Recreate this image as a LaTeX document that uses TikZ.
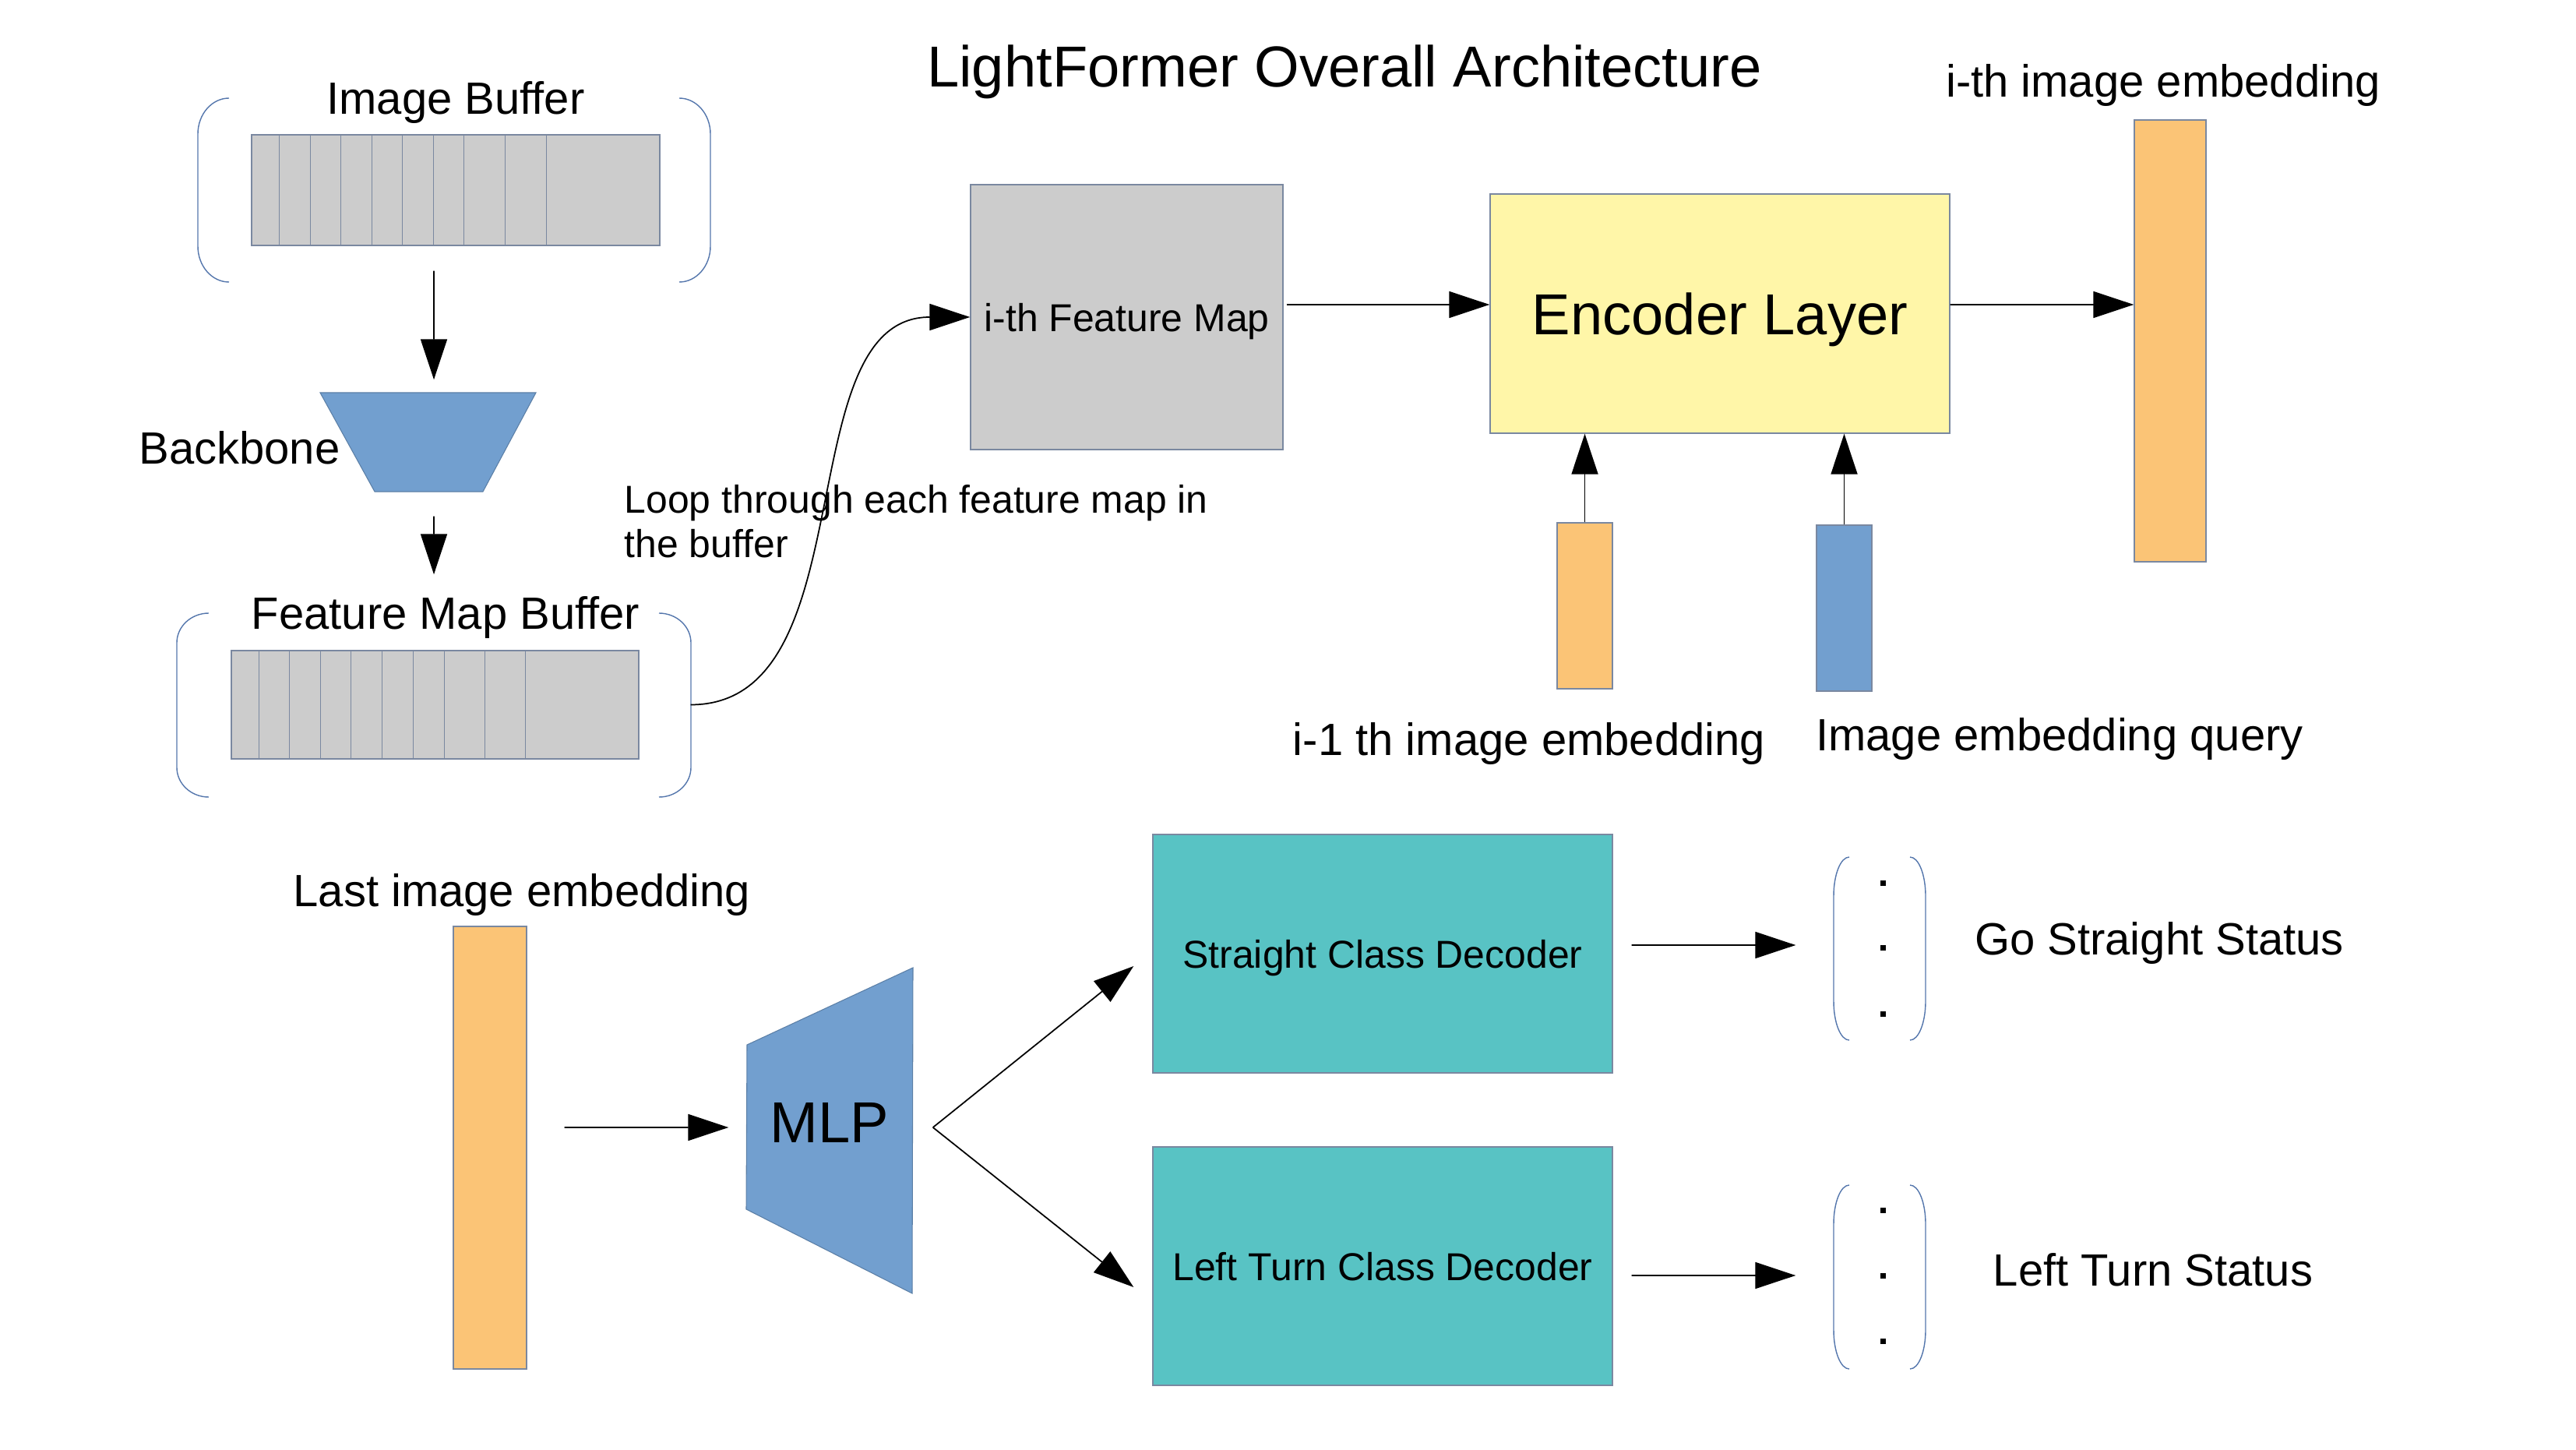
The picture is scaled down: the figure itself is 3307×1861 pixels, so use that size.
\documentclass[tikz,border=0pt]{standalone}
\usepackage{fontspec}
\setmainfont{Liberation Sans}
\usetikzlibrary{arrows.meta}
\definecolor{cellgray}{RGB}{204,204,204}
\definecolor{edgegray}{RGB}{122,136,160}
\definecolor{brkblue}{RGB}{84,118,172}
\definecolor{emborange}{RGB}{251,196,118}
\definecolor{skyblue}{RGB}{114,159,207}
\definecolor{enclight}{RGB}{255,246,168}
\definecolor{decteal}{RGB}{88,195,196}
\begin{document}
\begin{tikzpicture}[x=0.1mm,y=-0.1mm,>={Triangle[length=5.2mm,width=3.4mm]},
        box/.style={draw=edgegray,line width=0.4pt,inner sep=0pt,text depth=0pt},
        lbl/.style={font=\fontsize{16.5}{19.8}\selectfont,inner sep=0pt},
        small/.style={font=\fontsize{14.2}{16.2}\selectfont},
        big/.style={font=\fontsize{21.1}{25}\selectfont},
        arr/.style={->,line width=0.5pt},
        bracket/.style={draw=brkblue,line width=0.4pt}]
        \useasboundingbox (0,0) rectangle (3307,1861);
        \node[big,anchor=base] (title) at (1726,112) {LightFormer Overall Architecture};
        \node[lbl,anchor=base] (imgbuftxt) at (585,147) {Image Buffer};
        \node[box,fill=cellgray,minimum width=5.24cm,minimum height=1.42cm] (imgbuf) at (585,244) {};
        \foreach \d in {36,76,115,155,194,234,273,326,379}
            \draw[edgegray,line width=0.4pt] (imgbuf.north west) ++(\d,0) -- ++(0,142);
        \fill[skyblue,draw=skyblue!80!black,line width=0.3pt] (411,504)--(688,504)--(620,631)--(481,631)--cycle;
        \node[minimum width=2.77cm,minimum height=1.27cm,inner sep=0pt] (bb) at (550,567.5) {};
        \node[lbl,anchor=base east] (bbtxt) at (437,596) {Backbone};
        \node[lbl,anchor=base] (fmbuftxt) at (572,808) {Feature Map Buffer};
        \node[box,fill=cellgray,minimum width=5.23cm,minimum height=1.39cm] (fmbuf) at (558.5,904.5) {};
        \foreach \d in {36,75,115,154,194,234,274,326,378}
            \draw[edgegray,line width=0.4pt] (fmbuf.north west) ++(\d,0) -- ++(0,139);
        \foreach \xl/\xr/\yt/\yb/\rx/\ry in {254/912/126/362/40/46,227/887/787/1023/41/38,2354/2472/1100/1335/20/50,2354/2472/1521/1757/20/50}{
            \draw[bracket] (\xl+\rx,\yt) arc[start angle=90,end angle=180,x radius=\rx*0.1mm,y radius=\ry*0.1mm]
                -- (\xl,\yb-\ry) arc[start angle=180,end angle=270,x radius=\rx*0.1mm,y radius=\ry*0.1mm];
            \draw[bracket] (\xr-\rx,\yt) arc[start angle=90,end angle=0,x radius=\rx*0.1mm,y radius=\ry*0.1mm]
                -- (\xr,\yb-\ry) arc[start angle=0,end angle=-90,x radius=\rx*0.1mm,y radius=\ry*0.1mm];
        }
        \draw[arr] (bb.north |- imgbuf.south) ++(7,32) -- ([xshift=0.7mm,yshift=1.6mm]bb.north);
        \draw[arr] (bb.south) ++(7,31) -- ([xshift=-0.15mm,yshift=9.7mm]fmbuf.north);
        \node[box,fill=cellgray,minimum width=4.01cm,minimum height=3.4cm,small] (featmap) at (1446.5,407) {i-th Feature Map};
        \node[small,align=left,anchor=north west,inner sep=0pt] (looptxt) at (801,622) {Loop through each feature map in\\the buffer};
        \draw[arr] ([xshift=6.6mm]fmbuf.east) .. controls +(22.8mm,0) and +(-23.6mm,0) .. (featmap.west);
        \node[box,fill=enclight,minimum width=5.9cm,minimum height=3.07cm,big] (encoder) at (2208,402.5) {Encoder Layer};
        \draw[arr] ([xshift=0.4mm,yshift=1.6mm]featmap.east) -- ([yshift=1.15mm]encoder.west);
        \node[lbl,anchor=base] (iembtxt) at (2777,125) {i-th image embedding};
        \node[box,fill=emborange,minimum width=0.92cm,minimum height=5.67cm] (iemb) at (2786,437.5) {};
        \draw[arr] ([yshift=1.15mm]encoder.east) -- ([yshift=4.65mm]iemb.west);
        \node[box,fill=emborange,minimum width=0.71cm,minimum height=2.13cm] (prevemb) at (2034.5,777.5) {};
        \node[box,fill=skyblue,minimum width=0.71cm,minimum height=2.13cm] (query) at (2367.5,780.5) {};
        \draw[arr] (prevemb.north) -- (prevemb.north |- encoder.south);
        \draw[arr] (query.north) -- (query.north |- encoder.south);
        \node[lbl,anchor=base] (prevembtxt) at (1963,970) {i-1 th image embedding};
        \node[lbl,anchor=base] (querytxt) at (2644,964) {Image embedding query};
        \node[lbl,anchor=base] (lastembtxt) at (670,1163) {Last image embedding};
        \node[box,fill=emborange,minimum width=0.94cm,minimum height=5.68cm] (lastemb) at (629,1473) {};
        \fill[skyblue,draw=skyblue!80!black,line width=0.3pt] (959,1341)--(1172,1242)--(1171,1660)--(958,1552)--cycle;
        \node[big,minimum width=2.14cm,inner sep=0pt] (mlp) at (1065,1441) {MLP};
        \draw[arr] ([xshift=4.8mm,yshift=2.6mm]lastemb.east) -- ([xshift=-2.2mm,yshift=-0.6mm]mlp.west);
        \node[box,fill=decteal,minimum width=5.9cm,minimum height=3.06cm,small] (straight) at (1775,1224) {Straight Class Decoder};
        \node[box,fill=decteal,minimum width=5.9cm,minimum height=3.06cm,small] (leftturn) at (1775,1625) {Left Turn Class Decoder};
        \draw[arr] ([xshift=2.5mm,yshift=-0.6mm]mlp.east) -- ([xshift=-2.4mm,yshift=-1.6mm]straight.west);
        \draw[arr] ([xshift=2.5mm,yshift=-0.6mm]mlp.east) -- ([xshift=-2.4mm,yshift=-2.7mm]leftturn.west);
        \node[minimum width=1.18cm,minimum height=2.35cm,inner sep=0pt] (gsvec) at (2413,1217.5) {};
        \node[minimum width=1.18cm,minimum height=2.36cm,inner sep=0pt] (ltvec) at (2413,1639) {};
        \foreach \yy in {1133,1216,1301,1553,1637,1721}
            \fill (2413.5,\yy-3.5) rectangle ++(7,7);
        \draw[arr] ([xshift=2.4mm,yshift=1.1mm]straight.east) -- ([xshift=-4.8mm,yshift=0.45mm]gsvec.west);
        \draw[arr] ([xshift=2.4mm,yshift=-1.2mm]leftturn.east) -- ([xshift=-4.8mm,yshift=0.2mm]ltvec.west);
        \node[lbl,anchor=base] (gostatus) at (2772,1225) {Go Straight Status};
        \node[lbl,anchor=base] (ltstatus) at (2764,1650) {Left Turn Status};
    \end{tikzpicture}
\end{document}
